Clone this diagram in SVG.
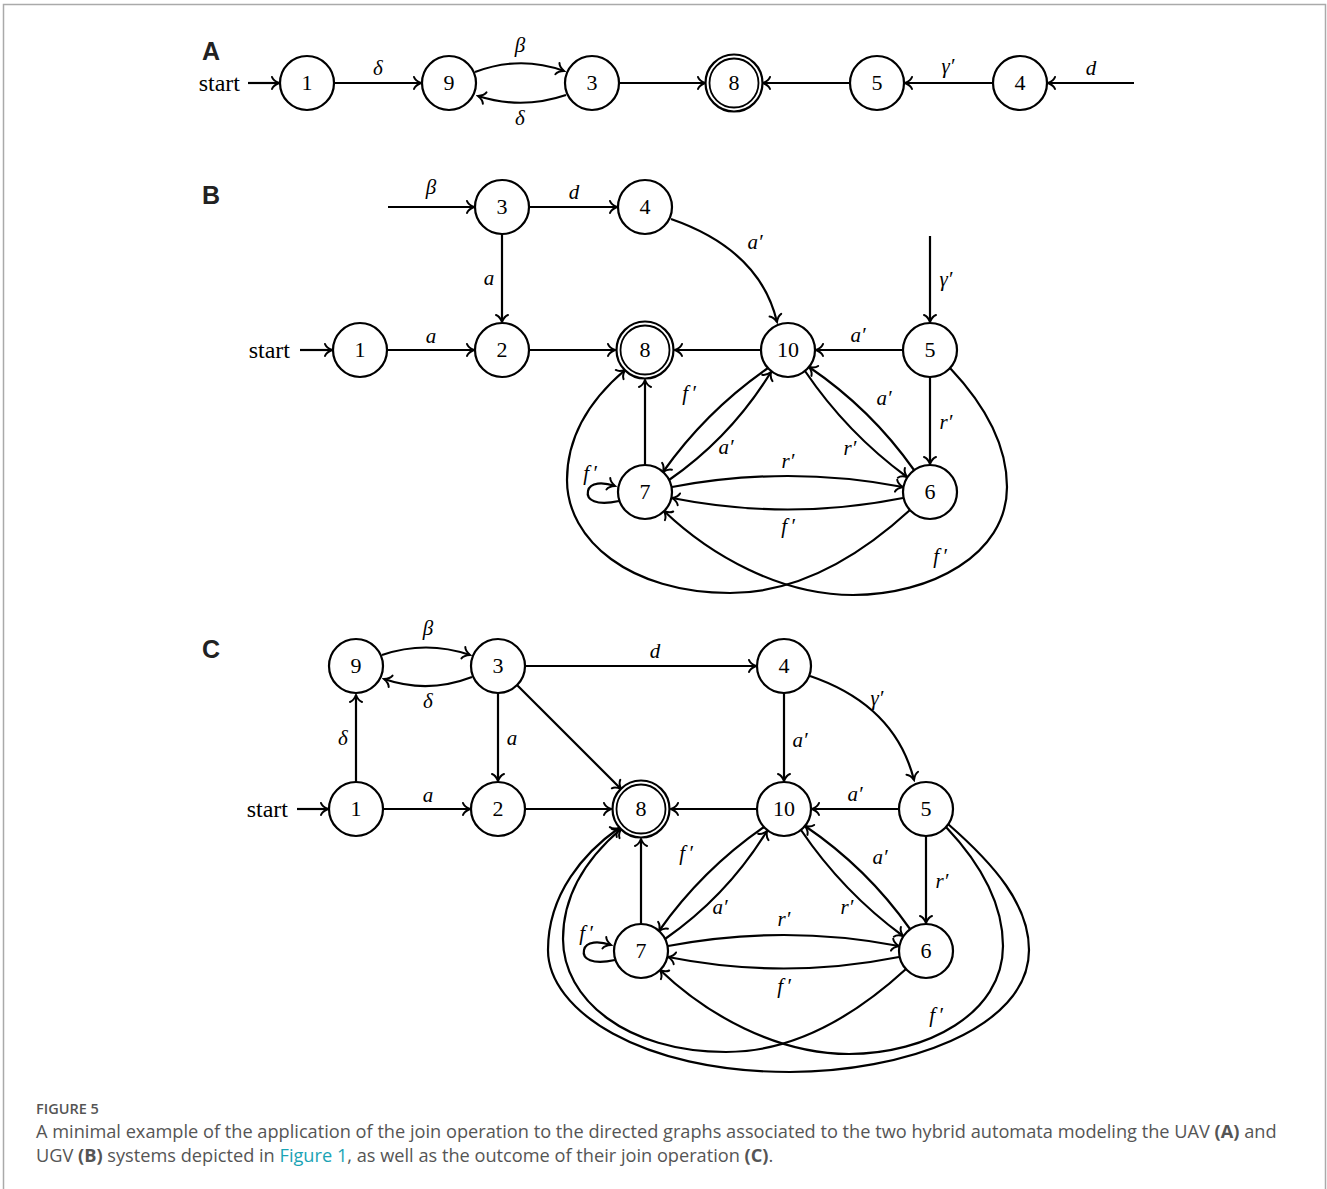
<svg xmlns="http://www.w3.org/2000/svg" width="1327" height="1189" viewBox="0 0 1327 1189">
<style>
.n{fill:#fff;stroke:#000;stroke-width:2.2}
.d{fill:none;stroke:#000;stroke-width:1.8}
.t{font-family:"Liberation Serif","DejaVu Serif",serif;font-size:22px;text-anchor:middle;fill:#000}
.l{font-family:"Liberation Serif","DejaVu Serif",serif;font-size:21px;font-style:italic;text-anchor:middle;fill:#000}
.s{font-family:"Liberation Serif","DejaVu Serif",serif;font-size:24px;text-anchor:end;fill:#000}
.e{fill:none;stroke:#000;stroke-width:2.2;marker-end:url(#ah)}
.p{font-family:"Liberation Sans",Arial,sans-serif;font-size:25px;font-weight:bold;fill:#222}
.c{font-family:"Open Sans","Noto Sans",sans-serif;fill:#555}
</style>
<defs>
<marker id="ah" viewBox="-10 -8 12 16" markerWidth="12" markerHeight="16" refX="0" refY="0" orient="auto" markerUnits="userSpaceOnUse">
<path d="M-7,-6 C-6,-3 -2.5,-1 0,0 C-2.5,1 -6,3 -7,6" fill="none" stroke="#000" stroke-width="2" stroke-linecap="round"/>
</marker>
</defs>
<rect width="1327" height="1189" fill="#fff"/>
<path d="M3.5,1189 V4.5 H1325.5 V1189" fill="none" stroke="#aaa" stroke-width="1.5"/>

<text class="p" x="202" y="60">A</text>
<text class="p" x="202" y="204">B</text>
<text class="p" x="202" y="658">C</text>

<g id="connectors">
<!-- Panel A -->
<path class="e" d="M248,83 H279"/>
<path class="e" d="M334,83 H421"/>
<path class="e" d="M475,72 Q520,55 564,71"/>
<path class="e" d="M566,95 Q522,110 478,96"/>
<path class="e" d="M619,83 H705"/>
<path class="e" d="M850,83 H763"/>
<path class="e" d="M993,83 H905"/>
<path class="e" d="M1134,83 H1048"/>
<!-- Panel B -->
<path class="e" d="M388,207 H474"/>
<path class="e" d="M529,207 H617"/>
<path class="e" d="M502,234 V322"/>
<path class="e" d="M300,350 H332"/>
<path class="e" d="M387,350 H474"/>
<path class="e" d="M529,350 H615"/>
<path class="e" d="M761,350 H675"/>
<path class="e" d="M903,350 H816"/>
<path class="e" d="M671,219 Q760,250 777,322"/>
<path class="e" d="M930,236 V322"/>
<path class="e" d="M930,377 V464"/>
<g id="clusterB">
<path class="e" d="M645,465 V380"/>
<path class="e" d="M768,368 Q706,411 663,472"/>
<path class="e" d="M669,480 Q731,437 771,372"/>
<path class="e" d="M805,371 Q847,433 907,477"/>
<path class="e" d="M914,470 Q871,409 809,367"/>
<path class="e" d="M672,487 Q788,465 903,487"/>
<path class="e" d="M903,498 Q788,521 672,498"/>
<path class="e" d="M619,501 C596,506 586,500 588,491 C590,482 603,482 615,486"/>
<path class="e" d="M910,510 C850,565 790,593 730,593 C630,593 567,540 567,480 C567,430 598,393 625,370"/>
<path class="e" d="M950,368 C985,405 1007,445 1007,487 C1007,555 930,595 853,595 C780,595 710,555 664,511"/>
</g>
<!-- Panel C -->
<path class="e" d="M382,655 Q426,640 470,655"/>
<path class="e" d="M472,677 Q428,694 384,679"/>
<path class="e" d="M356,782 V695"/>
<path class="e" d="M525,666 H756"/>
<path class="e" d="M498,693 V781"/>
<path class="e" d="M517,685 L621,789"/>
<path class="e" d="M297,809 H328"/>
<path class="e" d="M383,809 H470"/>
<path class="e" d="M525,809 H611"/>
<path class="e" d="M757,809 H671"/>
<path class="e" d="M784,693 V781"/>
<path class="e" d="M810,676 Q895,705 914,780"/>
<path class="e" d="M899,809 H812"/>
<path class="e" d="M926,836 V923"/>
<g id="clusterC" transform="translate(-4,459)">
<path class="e" d="M645,465 V380"/>
<path class="e" d="M768,368 Q706,411 663,472"/>
<path class="e" d="M669,480 Q731,437 771,372"/>
<path class="e" d="M805,371 Q847,433 907,477"/>
<path class="e" d="M914,470 Q871,409 809,367"/>
<path class="e" d="M672,487 Q788,465 903,487"/>
<path class="e" d="M903,498 Q788,521 672,498"/>
<path class="e" d="M619,501 C596,506 586,500 588,491 C590,482 603,482 615,486"/>
<path class="e" d="M910,510 C850,565 790,593 730,593 C630,593 567,540 567,480 C567,430 598,393 625,370"/>
<path class="e" d="M950,368 C985,405 1007,445 1007,487 C1007,555 930,595 853,595 C780,595 710,555 664,511"/>
</g>
<path class="e" d="M948,824 C995,865 1029,905 1029,950 C1029,1030 900,1072 790,1072 C640,1072 548,1010 548,950 C548,893 585,852 619,828"/>
</g>

<g id="labels">
<text class="s" x="240" y="91">start</text>
<text class="l" x="378" y="75">δ</text>
<text class="l" x="520" y="52">β</text>
<text class="l" x="520" y="125">δ</text>
<text class="l" x="948" y="73">γ′</text>
<text class="l" x="1091" y="75">d</text>

<text class="l" x="431" y="194">β</text>
<text class="l" x="574" y="199">d</text>
<text class="l" x="489" y="285">a</text>
<text class="s" x="290" y="358">start</text>
<text class="l" x="431" y="343">a</text>
<text class="l" x="755" y="249">a′</text>
<text class="l" x="858" y="342">a′</text>
<text class="l" x="946" y="286">γ′</text>
<text class="l" x="946" y="429">r′</text>
<text class="l" x="689" y="400">f<tspan dx="3">′</tspan></text>
<text class="l" x="726" y="454">a′</text>
<text class="l" x="884" y="405">a′</text>
<text class="l" x="850" y="455">r′</text>
<text class="l" x="788" y="468">r′</text>
<text class="l" x="788" y="533">f<tspan dx="3">′</tspan></text>
<text class="l" x="590" y="480">f<tspan dx="3">′</tspan></text>
<text class="l" x="940" y="563">f<tspan dx="3">′</tspan></text>

<text class="l" x="428" y="635">β</text>
<text class="l" x="428" y="708">δ</text>
<text class="l" x="343" y="745">δ</text>
<text class="l" x="655" y="658">d</text>
<text class="l" x="512" y="745">a</text>
<text class="s" x="288" y="817">start</text>
<text class="l" x="428" y="802">a</text>
<text class="l" x="800" y="747">a′</text>
<text class="l" x="877" y="705">γ′</text>
<text class="l" x="855" y="801">a′</text>
<text class="l" x="942" y="888">r′</text>
<text class="l" x="686" y="860">f<tspan dx="3">′</tspan></text>
<text class="l" x="720" y="914">a′</text>
<text class="l" x="880" y="864">a′</text>
<text class="l" x="847" y="914">r′</text>
<text class="l" x="784" y="926">r′</text>
<text class="l" x="784" y="993">f<tspan dx="3">′</tspan></text>
<text class="l" x="586" y="940">f<tspan dx="3">′</tspan></text>
<text class="l" x="936" y="1022">f<tspan dx="3">′</tspan></text>
</g>

<!-- Panel A nodes -->
<g id="A1"><circle class="n" cx="307" cy="83" r="27"/><text class="t" x="307" y="90">1</text></g>
<g id="A9"><circle class="n" cx="449" cy="83" r="27"/><text class="t" x="449" y="90">9</text></g>
<g id="A3"><circle class="n" cx="592" cy="83" r="27"/><text class="t" x="592" y="90">3</text></g>
<g id="A8"><circle class="n" cx="734" cy="83" r="28.5"/><circle class="d" cx="734" cy="83" r="24.5"/><text class="t" x="734" y="90">8</text></g>
<g id="A5"><circle class="n" cx="877" cy="83" r="27"/><text class="t" x="877" y="90">5</text></g>
<g id="A4"><circle class="n" cx="1020" cy="83" r="27"/><text class="t" x="1020" y="90">4</text></g>

<!-- Panel B nodes -->
<g id="B3"><circle class="n" cx="502" cy="207" r="27"/><text class="t" x="502" y="214">3</text></g>
<g id="B4"><circle class="n" cx="645" cy="207" r="27"/><text class="t" x="645" y="214">4</text></g>
<g id="B1"><circle class="n" cx="360" cy="350" r="27"/><text class="t" x="360" y="357">1</text></g>
<g id="B2"><circle class="n" cx="502" cy="350" r="27"/><text class="t" x="502" y="357">2</text></g>
<g id="B8"><circle class="n" cx="645" cy="350" r="28.5"/><circle class="d" cx="645" cy="350" r="24.5"/><text class="t" x="645" y="357">8</text></g>
<g id="B10"><circle class="n" cx="788" cy="350" r="27"/><text class="t" x="788" y="357">10</text></g>
<g id="B5"><circle class="n" cx="930" cy="350" r="27"/><text class="t" x="930" y="357">5</text></g>
<g id="B7"><circle class="n" cx="645" cy="492" r="27"/><text class="t" x="645" y="499">7</text></g>
<g id="B6"><circle class="n" cx="930" cy="492" r="27"/><text class="t" x="930" y="499">6</text></g>

<!-- Panel C nodes -->
<g id="C9"><circle class="n" cx="356" cy="666" r="27"/><text class="t" x="356" y="673">9</text></g>
<g id="C3"><circle class="n" cx="498" cy="666" r="27"/><text class="t" x="498" y="673">3</text></g>
<g id="C4"><circle class="n" cx="784" cy="666" r="27"/><text class="t" x="784" y="673">4</text></g>
<g id="C1"><circle class="n" cx="356" cy="809" r="27"/><text class="t" x="356" y="816">1</text></g>
<g id="C2"><circle class="n" cx="498" cy="809" r="27"/><text class="t" x="498" y="816">2</text></g>
<g id="C8"><circle class="n" cx="641" cy="809" r="28.5"/><circle class="d" cx="641" cy="809" r="24.5"/><text class="t" x="641" y="816">8</text></g>
<g id="C10"><circle class="n" cx="784" cy="809" r="27"/><text class="t" x="784" y="816">10</text></g>
<g id="C5"><circle class="n" cx="926" cy="809" r="27"/><text class="t" x="926" y="816">5</text></g>
<g id="C7"><circle class="n" cx="641" cy="951" r="27"/><text class="t" x="641" y="958">7</text></g>
<g id="C6"><circle class="n" cx="926" cy="951" r="27"/><text class="t" x="926" y="958">6</text></g>

<g id="caption">
<text class="c" x="36" y="1114" font-size="14.5" font-weight="600" fill="#666">FIGURE 5</text>
<text class="c" x="36" y="1138" font-size="18.2">A minimal example of the application of the join operation to the directed graphs associated to the two hybrid automata modeling the UAV <tspan font-weight="bold">(A)</tspan> and</text>
<text class="c" x="36" y="1162" font-size="18.2">UGV <tspan font-weight="bold">(B)</tspan> systems depicted in <tspan fill="#1aa3b5">Figure 1</tspan>, as well as the outcome of their join operation <tspan font-weight="bold">(C)</tspan>.</text>
</g>
</svg>
